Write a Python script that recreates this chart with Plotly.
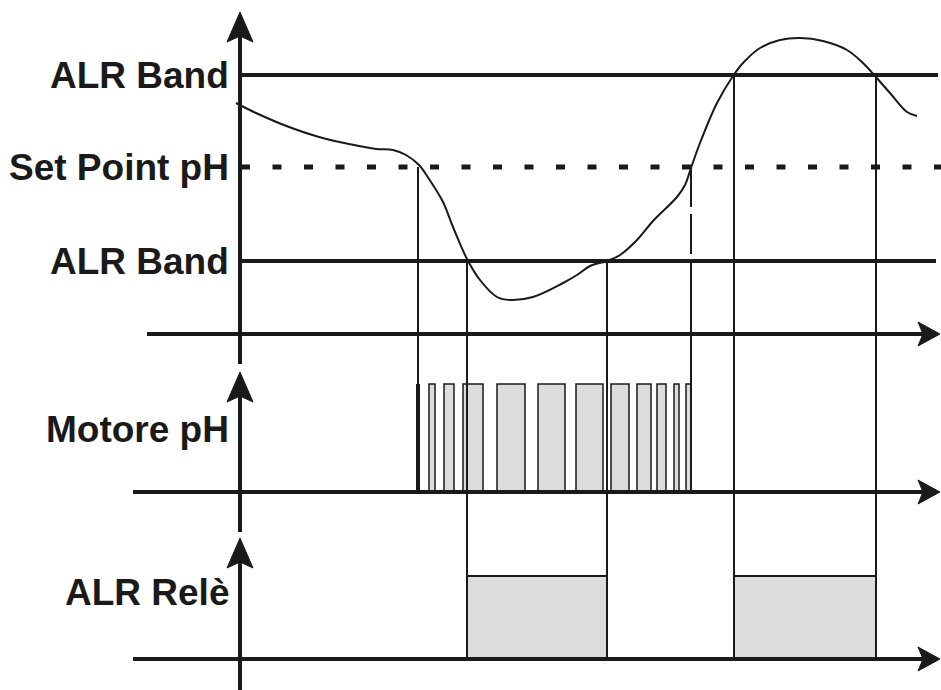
import plotly.graph_objects as go

# --- DATI (coordinate in unità del diagramma: tempo -> x, livello -> y verso il basso) ---
# curva del pH
t_curva = [236, 256, 289, 319, 349, 376, 393, 406, 419, 429, 443, 453, 467, 480, 497, 510,
           533, 563, 577, 590, 607, 620, 637, 653, 677, 685, 691, 700, 717, 733, 743, 760,
           780, 800, 823, 847, 863, 875, 890, 907, 917]
ph_curva = [103, 113, 127, 137, 144, 149, 150, 155, 165, 179, 202, 227, 259, 280, 297, 300,
            297, 283, 275, 266, 261, 255, 240, 221, 197, 185, 168, 143, 103, 76, 63, 48,
            40, 38, 41, 50, 63, 76, 93, 112, 116]

# livelli
livello_alr_alto = 75
livello_setpoint = 167
livello_alr_basso = 261

# motore pH: impulsi (inizio, fine)
motore_on = [429, 444, 463, 497, 538, 576, 611, 637, 657, 674, 686]
motore_off = [435, 454, 483, 525, 565, 603, 629, 651, 666, 679, 691]
motore_start = 418
motore_stop = 691

# relè allarme
rele_on = [467, 734]
rele_off = [607, 876]

# pannelli: base asse tempo, altezza impulso, asse verticale
base_pannelli = [334, 492, 659]
top_impulsi = [None, 384, 576]
asse_y_top = [12, 372, 538]
asse_y_bottom = [364, 532, 690]
asse_x_start = [147, 133, 133]

etichette = ['ALR Band', 'Set Point pH', 'ALR Band', 'Motore pH', 'ALR Relè']
etichette_y = [livello_alr_alto, livello_setpoint, livello_alr_basso, 429, 592]

NERO = '#1a1a1a'
GRIGIO = '#dcdcdc'
X_ASSE = 240
X_FINE = 940

fig = go.Figure()
shapes = []


def linea(x0, y0, x1, y1, w=2, dash=None):
    d = dict(type='line', x0=x0, y0=y0, x1=x1, y1=y1, line=dict(color=NERO, width=w))
    if dash:
        d['line']['dash'] = dash
    return d


def freccia_su(x, y):
    path = f"M {x} {y} L {x-13} {y+30} L {x} {y+24} L {x+13} {y+30} Z"
    return dict(type='path', path=path, fillcolor=NERO, line=dict(color=NERO, width=1))


def freccia_dx(x, y):
    path = f"M {x} {y} L {x-22} {y-12} L {x-17} {y} L {x-22} {y+12} Z"
    return dict(type='path', path=path, fillcolor=NERO, line=dict(color=NERO, width=1))


# impulsi motore
for a, b in zip(motore_on, motore_off):
    shapes.append(dict(type='rect', x0=a, x1=b, y0=top_impulsi[1], y1=base_pannelli[1],
                       fillcolor=GRIGIO, line=dict(color=NERO, width=1.5)))
# relè
for a, b in zip(rele_on, rele_off):
    shapes.append(dict(type='rect', x0=a, x1=b, y0=top_impulsi[2], y1=base_pannelli[2],
                       fillcolor=GRIGIO, line=dict(color='#555555', width=1)))
    shapes.append(linea(a, top_impulsi[2], b, top_impulsi[2], w=2))

# linee verticali di evento
shapes.append(linea(motore_start, livello_setpoint, motore_start, base_pannelli[1], w=2))
shapes.append(linea(motore_start, top_impulsi[1], motore_start, base_pannelli[1], w=4))
shapes.append(linea(motore_stop, livello_setpoint, motore_stop, 272, w=2, dash='40px,7px'))
shapes.append(linea(motore_stop, 272, motore_stop, base_pannelli[1], w=2))
shapes.append(linea(rele_on[0], livello_alr_basso, rele_on[0], base_pannelli[2], w=2))
shapes.append(linea(rele_off[0], livello_alr_basso, rele_off[0], base_pannelli[2], w=2))
shapes.append(linea(rele_on[1], livello_alr_alto, rele_on[1], base_pannelli[2], w=2))
shapes.append(linea(rele_off[1], livello_alr_alto, rele_off[1], base_pannelli[2], w=2))

# livelli
shapes.append(linea(X_ASSE, livello_alr_alto, 938, livello_alr_alto, w=4))
shapes.append(linea(X_ASSE, livello_alr_basso, 936, livello_alr_basso, w=4))
shapes.append(linea(241, livello_setpoint, 941, livello_setpoint, w=5, dash='9px,22.5px'))

# assi
for i in range(3):
    shapes.append(linea(asse_x_start[i], base_pannelli[i], X_FINE - 10, base_pannelli[i], w=4))
    shapes.append(linea(X_ASSE, asse_y_top[i] + 20, X_ASSE, asse_y_bottom[i], w=4))
    shapes.append(freccia_su(X_ASSE, asse_y_top[i]))
    shapes.append(freccia_dx(X_FINE, base_pannelli[i]))

fig.add_trace(go.Scatter(x=t_curva, y=ph_curva, mode='lines', line=dict(color=NERO, width=2, shape='spline'),
                         hoverinfo='skip', showlegend=False))

annotazioni = []
for testo, yy in zip(etichette, etichette_y):
    annotazioni.append(dict(x=231, y=yy, xref='x', yref='y', text=f"<b>{testo}</b>", showarrow=False,
                            xanchor='right', yanchor='middle',
                            font=dict(family='Liberation Sans, Arial', size=37, color=NERO)))

fig.update_layout(
    width=941, height=690,
    margin=dict(l=0, r=0, t=0, b=0),
    paper_bgcolor='white', plot_bgcolor='white',
    xaxis=dict(range=[0, 941], visible=False, fixedrange=True),
    yaxis=dict(range=[690, 0], visible=False, fixedrange=True),
    shapes=shapes,
    annotations=annotazioni,
    showlegend=False,
)

# niente margine del body: la figura occupa esattamente la finestra
fig.write_html("out.html", config={'displayModeBar': False},
               post_script="document.body.style.margin='0';document.body.style.overflow='hidden';")
